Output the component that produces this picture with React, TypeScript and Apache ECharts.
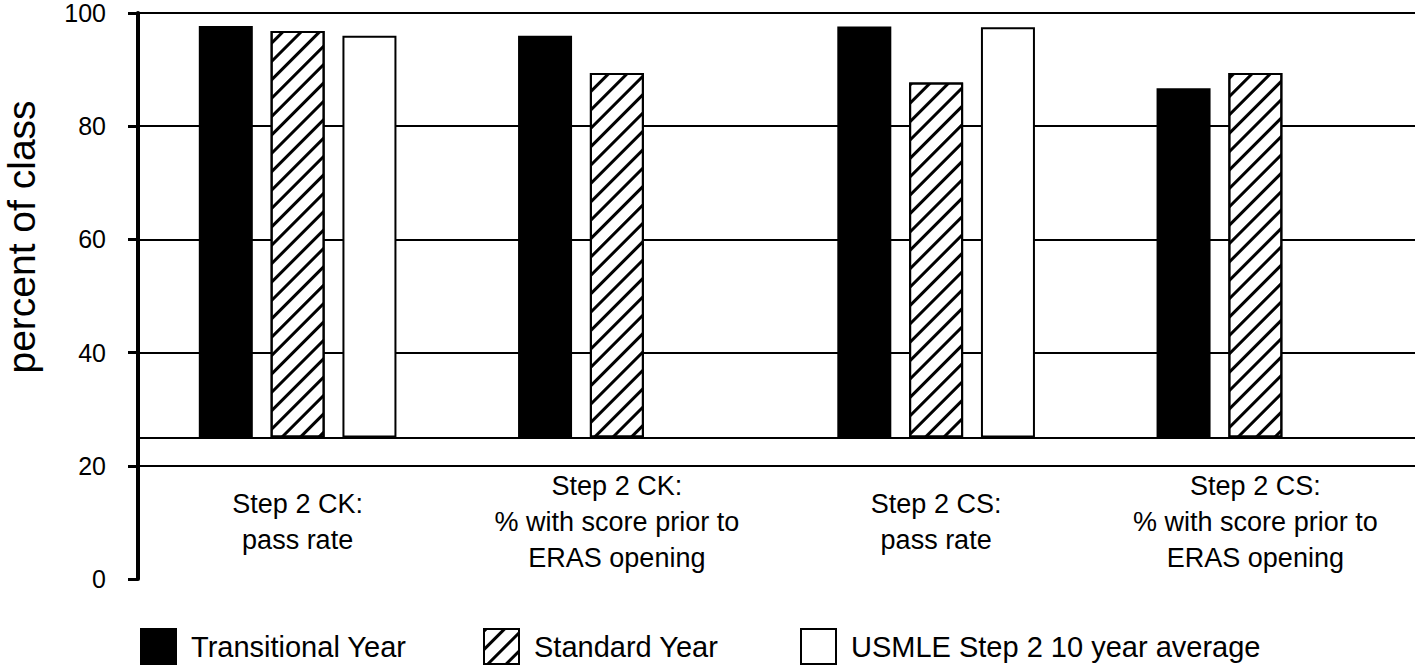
import React, { useEffect, useRef } from "react";
import * as echarts from "echarts";

const categories = [
  "Step 2 CK:\npass rate",
  "Step 2 CK:\n% with score prior to\nERAS opening",
  "Step 2 CS:\npass rate",
  "Step 2 CS:\n% with score prior to\nERAS opening",
];
const seriesNames = ["Transitional Year", "Standard Year", "USMLE Step 2 10 year average"];
const transitional = [97.7, 96.0, 97.6, 86.7];
const standard = [96.8, 89.4, 87.7, 89.4];
const usmle: (number | null)[] = [96.0, null, 97.5, null];
const BASE = 25;
const Y_MIN = 0;
const Y_MAX = 100;
const Y_STEP = 20;

const FONT = "'Liberation Sans', Arial, Helvetica, sans-serif";

export default function App() {
  const ref = useRef<HTMLDivElement>(null);
  useEffect(() => {
    if (!ref.current) return;
    const chart = echarts.init(ref.current, undefined, { renderer: "svg" });
    const barWidth = 54;
    const barGap = "33%";
    const hatch = {
      symbol: "rect",
      symbolSize: 1,
      dashArrayX: [1, 0],
      dashArrayY: [2.2, 9.2],
      rotation: -Math.PI / 4,
      color: "#000",
      backgroundColor: "#fff",
    };
    const groups = [
      { key: "a", name: seriesNames[0], data: transitional, itemStyle: { color: "#000", borderColor: "#000", borderWidth: 2 } },
      { key: "b", name: seriesNames[1], data: standard, itemStyle: { color: "#fff", borderColor: "#000", borderWidth: 2, decal: hatch } },
      { key: "c", name: seriesNames[2], data: usmle, itemStyle: { color: "#fff", borderColor: "#000", borderWidth: 2 } },
    ];
    const series: any[] = [];
    groups.forEach((g, i) => {
      series.push({
        type: "bar",
        stack: g.key,
        barWidth,
        barGap,
        silent: true,
        itemStyle: { color: "rgba(0,0,0,0)", borderWidth: 0 },
        data: g.data.map((v) => (v == null ? null : BASE)),
      });
      const s: any = {
        name: g.name,
        type: "bar",
        stack: g.key,
        barWidth,
        barGap,
        silent: true,
        itemStyle: g.itemStyle,
        data: g.data.map((v) => (v == null ? null : v - BASE)),
      };
      if (i === 0) {
        s.markLine = {
          silent: true,
          symbol: ["none", "none"],
          label: { show: false },
          lineStyle: { color: "#000", width: 2, type: "solid" },
          data: [{ yAxis: BASE }],
        };
      }
      series.push(s);
    });
    const legendCommon = {
      orient: "horizontal",
      top: 628,
      padding: 0,
      itemWidth: 35,
      itemHeight: 35,
      icon: "rect",
      selectedMode: false,
      textStyle: { color: "#000", fontSize: 29, fontFamily: FONT, padding: [0, 0, 0, 10] },
    };
    chart.setOption({
      animation: false,
      backgroundColor: "#fff",
      textStyle: { fontFamily: FONT },
      grid: { left: 138, right: 3, top: 13, bottom: 86, containLabel: false, outerBoundsMode: "none" },
      legend: [
        { ...legendCommon, left: 140, data: [seriesNames[0]] },
        { ...legendCommon, left: 483, data: [seriesNames[1]] },
        { ...legendCommon, left: 800, data: [seriesNames[2]] },
      ],
      xAxis: {
        type: "category",
        data: categories,
        axisLine: { show: false },
        axisTick: { show: false },
        splitLine: { show: false },
        axisLabel: {
          interval: 0,
          color: "#000",
          fontSize: 27,
          lineHeight: 36,
          fontFamily: FONT,
          verticalAlign: "middle",
          margin: -57,
        },
      },
      yAxis: {
        type: "value",
        min: Y_MIN,
        max: Y_MAX,
        interval: Y_STEP,
        name: "percent of class",
        nameLocation: "middle",
        nameRotate: 90,
        nameGap: 98,
        nameTextStyle: { color: "#000", fontSize: 39, lineHeight: 38, fontFamily: FONT, padding: [0, 0, 0, 118] },
        axisLine: { show: true, lineStyle: { color: "#000", width: 4 } },
        axisTick: { show: true, inside: false, length: 10, lineStyle: { color: "#000", width: 3 } },
        axisLabel: { color: "#000", fontSize: 25, lineHeight: 20, margin: 32, fontFamily: FONT },
        splitLine: {
          show: true,
          lineStyle: { color: ["rgba(0,0,0,0)", "#000", "#000", "#000", "#000", "#000"], width: 2 },
        },
      },
      series,
    });
    return () => chart.dispose();
  }, []);
  return (
    <div
      ref={ref}
      style={{ position: "absolute", left: 0, top: 0, width: 1418, height: 665, background: "#fff" }}
    />
  );
}
